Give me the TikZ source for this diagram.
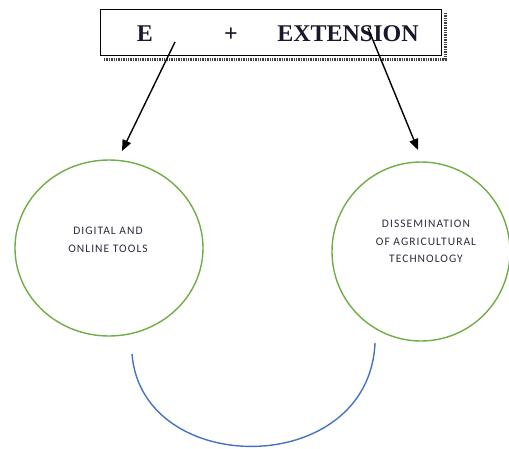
\documentclass[tikz,border=0pt]{standalone}
\usepackage{fontspec}
\setmainfont{Liberation Serif}
\newfontfamily\labelfont[LetterSpace=9]{Carlito}
\usetikzlibrary{arrows.meta,calc,shapes.geometric}

\definecolor{ringgreen}{HTML}{70AD47}
\definecolor{arcblue}{HTML}{4472C4}
\definecolor{titleink}{HTML}{18182A}
\definecolor{labelink}{HTML}{2C2C3C}

\tikzset{
  titlebox/.style={draw=black, line width=1.3pt, rectangle, inner sep=0pt,
                   minimum width=341pt, minimum height=46pt, anchor=north west},
  boxshadow/.style={draw=black!75, line width=2.6pt, dash pattern=on 1.4pt off 1pt},
  titletext/.style={font=\fontsize{24}{28}\selectfont\bfseries, text=titleink,
                    inner sep=0pt, anchor=base},
  ring/.style={draw=ringgreen, line width=1.4pt, ellipse, inner sep=0pt},
  ringtext/.style={font=\labelfont\fontsize{11.5}{17.5}\selectfont, text=labelink,
                   align=center, inner sep=0pt},
  pointer/.style={draw=black, line width=1.4pt,
                  -{Triangle[length=11pt,width=9pt]}},
  arcline/.style={draw=arcblue, line width=1.4pt}
}

\begin{document}
\begin{tikzpicture}[x=1pt,y=-1pt]
  \useasboundingbox (0,0) rectangle (509,448);

  % heading box with its shadow
  \node[titlebox] (title) at (100,9) {};
  \draw[boxshadow] ($(title.south west)+(4,3)$) -- ($(title.south east)+(3,3)$)
                   -- ($(title.north east)+(3,4)$);

  \node[titletext] (letterE) at (145,41) {E};
  \node[titletext] (plus) at (231,41) {+};
  \node[titletext] (extension) at (348,41) {EXTENSION};

  % the two circles
  \node[ring, minimum width=188pt, minimum height=176pt] (digital) at (109,248) {};
  \node[ring, minimum width=178pt, minimum height=179pt] (dissem) at (421,251.5) {};

  \node[ringtext] (digitaltext) at (108,240) {DIGITAL AND\\ONLINE TOOLS};
  \node[ringtext] (dissemtext) at (426,241.5)
        {DISSEMINATION\\OF AGRICULTURAL\\TECHNOLOGY};

  % arrows from the heading down to the circles
  \coordinate (fromE) at (175,42);
  \coordinate (toDigital) at (122,151);
  \coordinate (fromExt) at (368,28);
  \coordinate (toDissem) at (418,150);
  \draw[pointer] (fromE) -- (toDigital);
  \draw[pointer] (fromExt) -- (toDissem);

  % blue arc beneath
  \coordinate (arcL) at (132,354);
  \coordinate (arcR) at (375,343);
  \draw[arcline] (arcL) .. controls (142,479) and (369,479) .. (arcR);
\end{tikzpicture}
\end{document}
